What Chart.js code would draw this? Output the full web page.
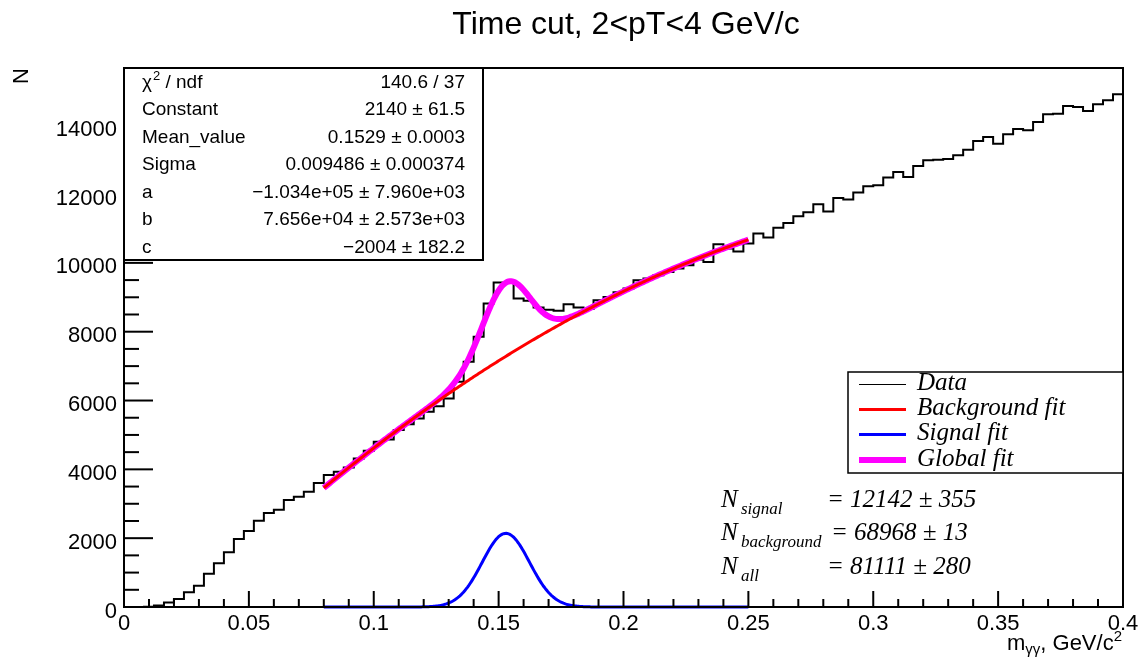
<!DOCTYPE html>
<html>
<head>
<meta charset="utf-8">
<script src="https://cdn.jsdelivr.net/npm/chart.js@4.4.1/dist/chart.umd.min.js"></script>
<style>
  body{margin:0;background:#fff}
  canvas{display:block}
</style>
</head>
<body>
<canvas id="hist" width="1142" height="660"></canvas>
<script>
// histogram: 100 bins of 0.004 from 0 to 0.4
const binStart = 0
const binWidth = 0.004
const counts = [
  0, 0, 10, 45, 130, 232, 426, 620, 968, 1268,
  1588, 1975, 2207, 2507, 2730, 2827, 3107, 3204, 3349, 3601,
  3833, 3930, 4056, 4317, 4540, 4801, 4869, 5140, 5314, 5479,
  5672, 5837, 6060, 6544, 7125, 7850, 8818, 9430, 9430, 8964,
  8900, 8700, 8640, 8606, 8799, 8702, 8660, 8915, 9012, 9145,
  9254, 9496, 9544, 9641, 9738, 9835, 9932, 10096, 10028, 10541,
  10420, 10330, 10560, 10851, 10735, 11020, 11161, 11355, 11470, 11703,
  11490, 11887, 11843, 12042, 12226, 12255, 12478, 12642, 12497, 12815,
  12981, 13000, 13020, 13126, 13291, 13542, 13658, 13465, 13736, 13891,
  13852, 14094, 14317, 14336, 14559, 14529, 14413, 14607, 14723, 14898
]

// fit parameters as printed in the stats box
const gausConst = 2140
const gausMean = 0.1529
const gausSigma = 0.009486
const polA = -1.034e5
const polB = 7.656e4
const polC = -2004
const fitRange = [0.08, 0.25]

const xTicks = [0, 0.05, 0.1, 0.15, 0.2, 0.25, 0.3, 0.35, 0.4]
const xTickLabels = ["0", "0.05", "0.1", "0.15", "0.2", "0.25", "0.3", "0.35", "0.4"]
const yTicks = [0, 2000, 4000, 6000, 8000, 10000, 12000, 14000]
const yMax = 15663

const statsNames = ["χ2 / ndf", "Constant", "Mean_value", "Sigma", "a", "b", "c"]
const statsValues = ["140.6 / 37", "2140 ± 61.5", "0.1529 ± 0.0003", "0.009486 ± 0.000374",
  "−1.034e+05 ± 7.960e+03", "7.656e+04 ± 2.573e+03", "−2004 ± 182.2"]

const legendLabels = ["Data", "Background fit", "Signal fit", "Global fit"]
const legendColors = ["#000000", "#ff0000", "#0000ff", "#ff00ff"]
const legendWidths = [1, 3, 3, 6]

const yieldNames = ["signal", "background", "all"]
const yieldValues = ["= 12142 ± 355", "= 68968 ± 13", "= 81111 ± 280"]

// build the step outline from bin lower edges
const histPoints = counts.map((v, i) => ({x: binStart + i * binWidth, y: v}))
histPoints.push({x: binStart + counts.length * binWidth, y: counts[counts.length - 1]})

function bkg(x){ return polA * x * x + polB * x + polC }
function sig(x){ const d = (x - gausMean) / gausSigma; return gausConst * Math.exp(-0.5 * d * d) }

const fitX = []
for (let k = 0; k <= 340; k++) fitX.push(fitRange[0] + k * (fitRange[1] - fitRange[0]) / 340)

function line(ctx, x1, y1, x2, y2){
  ctx.beginPath(); ctx.moveTo(x1, y1); ctx.lineTo(x2, y2); ctx.stroke()
}

const rootDecor = {
  id: 'rootDecor',
  afterDraw(chart){
    const {ctx, chartArea: a} = chart
    const xs = chart.scales.x, ys = chart.scales.y
    ctx.save()
    ctx.strokeStyle = '#000'
    ctx.fillStyle = '#000'

    // axis ticks
    ctx.lineWidth = 2
    for (let k = 0; k <= 40; k++){
      const px = xs.getPixelForValue(k * 0.01)
      line(ctx, px, a.bottom, px, a.bottom - (k % 5 === 0 ? 16 : 8))
    }
    for (let v = 0; v <= yMax; v += 500){
      const py = ys.getPixelForValue(v)
      line(ctx, a.left, py, a.left + (v % 2000 === 0 ? 29 : 15), py)
    }
    // frame
    ctx.strokeRect(a.left, a.top, a.right - a.left, a.bottom - a.top)

    // tick labels
    ctx.font = '22px "Liberation Sans", Arial, sans-serif'
    ctx.textBaseline = 'alphabetic'
    ctx.textAlign = 'center'
    xTicks.forEach((v, i) => ctx.fillText(xTickLabels[i], xs.getPixelForValue(v), 630))
    ctx.textAlign = 'right'
    yTicks.forEach(v => ctx.fillText(String(v), 117, ys.getPixelForValue(v) + 10.5))

    // title
    ctx.textAlign = 'center'
    ctx.font = '32px "Liberation Sans", Arial, sans-serif'
    ctx.fillText("Time cut, 2<pT<4 GeV/c", 626, 34)

    // y title
    ctx.save()
    ctx.translate(28, 68)
    ctx.rotate(-Math.PI / 2)
    ctx.textAlign = 'right'
    ctx.font = '22px "Liberation Sans", Arial, sans-serif'
    ctx.fillText("N", 0, 0)
    ctx.restore()

    // x title, right aligned at the frame edge
    const parts = [
      {t: "m", f: 22, dy: 0},
      {t: "γγ", f: 15, dy: 4},
      {t: ", GeV/c", f: 22, dy: 0},
      {t: "2", f: 15, dy: -9}
    ]
    ctx.textAlign = 'left'
    let total = 0
    parts.forEach(p => { ctx.font = p.f + 'px "Liberation Sans", Arial, sans-serif'; p.w = ctx.measureText(p.t).width; total += p.w })
    let cx = 1122 - total
    parts.forEach(p => { ctx.font = p.f + 'px "Liberation Sans", Arial, sans-serif'; ctx.fillText(p.t, cx, 650 + p.dy); cx += p.w })

    // stats box
    const sb = {l: 124, t: 68, r: 483, b: 260}
    ctx.fillStyle = '#fff'
    ctx.fillRect(sb.l, sb.t, sb.r - sb.l, sb.b - sb.t)
    ctx.lineWidth = 2
    ctx.strokeRect(sb.l, sb.t, sb.r - sb.l, sb.b - sb.t)
    ctx.fillStyle = '#000'
    ctx.textBaseline = 'middle'
    const rowH = (sb.b - sb.t) / statsNames.length
    statsNames.forEach((name, i) => {
      const cy = sb.t + rowH * (i + 0.5) + 1
      ctx.font = '19px "Liberation Sans", Arial, sans-serif'
      ctx.textAlign = 'left'
      if (i === 0){
        ctx.fillText("χ", 142, cy)
        const w = ctx.measureText("χ").width
        ctx.font = '13px "Liberation Sans", Arial, sans-serif'
        ctx.fillText("2", 142 + w + 1, cy - 6)
        const w2 = ctx.measureText("2").width
        ctx.font = '19px "Liberation Sans", Arial, sans-serif'
        ctx.fillText(" / ndf", 142 + w + 1 + w2, cy)
      } else {
        ctx.fillText(name, 142, cy)
      }
      ctx.textAlign = 'right'
      ctx.fillText(statsValues[i], 465, cy)
    })

    // legend box
    const lb = {l: 848, t: 372, r: 1123, b: 473}
    ctx.fillStyle = '#fff'
    ctx.fillRect(lb.l, lb.t, lb.r - lb.l, lb.b - lb.t)
    ctx.lineWidth = 1.5
    ctx.strokeRect(lb.l, lb.t, lb.r - lb.l, lb.b - lb.t)
    ctx.textAlign = 'left'
    ctx.textBaseline = 'alphabetic'
    ctx.font = 'italic 25px "Liberation Serif", "Times New Roman", serif'
    legendLabels.forEach((lab, i) => {
      const cy = Math.round(384 + i * 25.2)
      ctx.strokeStyle = legendColors[i]
      ctx.lineWidth = legendWidths[i]
      const off = legendWidths[i] % 2 ? 0.5 : 0
      line(ctx, 859, cy + off, 906, cy + off)
      ctx.fillStyle = '#000'
      ctx.fillText(lab, 917, cy + 6)
    })

    // yields
    yieldNames.forEach((nm, i) => {
      const by = 507 + i * 33.3
      ctx.font = 'italic 25px "Liberation Serif", "Times New Roman", serif'
      ctx.fillText("N", 721, by)
      ctx.fillText(yieldValues[i], i === 1 ? 831 : 827, by)
      ctx.font = 'italic 17px "Liberation Serif", "Times New Roman", serif'
      ctx.fillText(nm, 741, by + 7)
    })

    ctx.restore()
  }
}

new Chart(document.getElementById('hist'), {
  type: 'line',
  data: {
    datasets: [
      {label: 'Background fit', data: fitX.map(x => ({x, y: bkg(x)})), borderColor: '#ff0000', borderWidth: 3, order: 0},
      {label: 'Signal fit', data: fitX.map(x => ({x, y: sig(x)})), borderColor: '#0000ff', borderWidth: 3, order: 1},
      {label: 'Global fit', data: fitX.map(x => ({x, y: bkg(x) + sig(x)})), borderColor: '#ff00ff', borderWidth: 6, order: 2},
      {label: 'Data', data: histPoints, borderColor: '#000000', borderWidth: 2, stepped: true, order: 3}
    ]
  },
  options: {
    responsive: false,
    animation: false,
    layout: {padding: {left: 124, right: 19, top: 68, bottom: 53}},
    elements: {point: {radius: 0}, line: {tension: 0, fill: false}},
    datasets: {line: {clip: 4}},
    scales: {
      x: {type: 'linear', min: 0, max: 0.4, display: false},
      y: {type: 'linear', min: 0, max: yMax, display: false}
    },
    plugins: {legend: {display: false}, tooltip: {enabled: false}, title: {display: false}}
  },
  plugins: [rootDecor]
})
</script>
</body>
</html>
